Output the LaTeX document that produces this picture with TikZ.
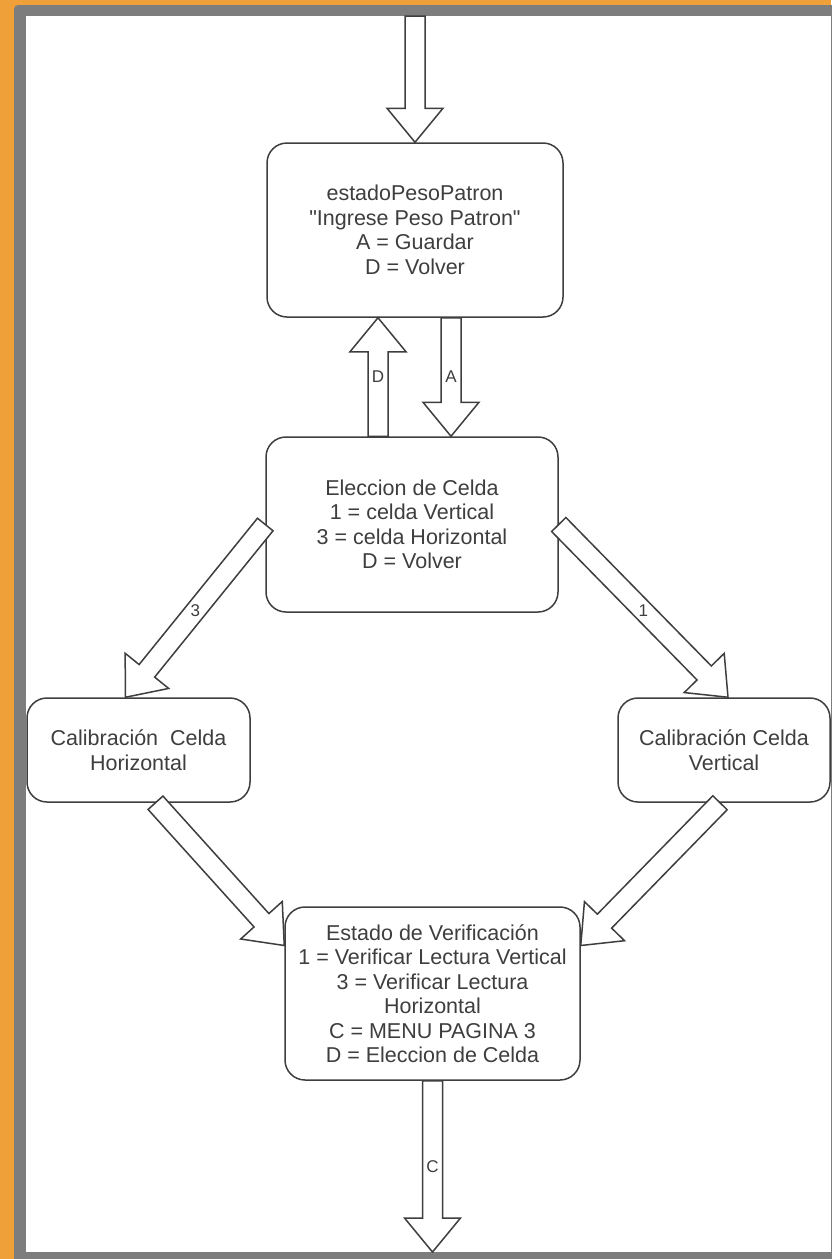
\documentclass[tikz,border=0pt]{standalone}
\usepackage{fontspec}
\setmainfont{Liberation Sans}
\newfontfamily\rectas{Liberation Sans}
\usetikzlibrary{calc}
\definecolor{marco}{RGB}{240,160,56}
\definecolor{gris}{RGB}{125,125,125}
\definecolor{tinta}{RGB}{62,62,62}

% 空心粗箭头: 起点, 终点, 标签
\newcommand{\fatarrow}[3]{%
  \draw[flecha] let \p1=(#1), \p2=(#2),
      \n1={atan2(\y2-\y1,\x2-\x1)}, \n2={veclen(\x2-\x1,\y2-\y1)-34pt} in
    ($(\p1)+(\n1+90:10pt)$) -- ($(\p1)+(\n1:\n2)+(\n1+90:10pt)$)
    -- ($(\p1)+(\n1:\n2)+(\n1+90:28pt)$) -- (\p2)
    -- ($(\p1)+(\n1:\n2)+(\n1-90:28pt)$) -- ($(\p1)+(\n1:\n2)+(\n1-90:10pt)$)
    -- ($(\p1)+(\n1-90:10pt)$) -- cycle;
  \if\relax\detokenize{#3}\relax\else
    \node[etiqueta] at ($(#1)!0.5!(#2)$) {#3};
  \fi
}

\begin{document}
\begin{tikzpicture}[x=1pt,y=-1pt,
    estado/.style={draw=tinta, line width=1.5pt, rounded corners=20pt, fill=white,
      text=tinta, align=center, inner sep=0pt, font=\fontsize{21.5}{24.5}\selectfont},
    flecha/.style={draw=tinta, line width=1.5pt, fill=white, line join=miter},
    etiqueta/.style={fill=white, inner sep=1pt, text=tinta, font=\fontsize{17}{17}\selectfont}]
  % 边框
  \fill[marco] (0,0) rectangle (831,1259);
  \useasboundingbox (0,0) rectangle (831,1259);
  \fill[gris, rounded corners=4pt] (14,5) rectangle (840,1268);
  \fill[white] (26,16) rectangle (831,1252);

  \node[estado, minimum width=296pt, minimum height=174pt] (peso) at (415,230)
    {estadoPesoPatron\\{\rectas"Ingrese Peso Patron"}\\A = Guardar\\D = Volver};
  \node[estado, minimum width=292pt, minimum height=175pt] (eleccion) at (412,524.5)
    {Eleccion de Celda\\1 = celda Vertical\\3 = celda Horizontal\\D = Volver};
  \node[estado, minimum width=223pt, minimum height=104pt] (calH) at (138.5,750)
    {Calibración~~Celda\\Horizontal};
  \node[estado, minimum width=212pt, minimum height=104pt] (calV) at (724,750)
    {Calibración Celda\\Vertical};
  \node[estado, minimum width=295pt, minimum height=173pt] (verif) at (432.5,993.5)
    {Estado de Verificación\\1 = Verificar Lectura Vertical\\3 = Verificar Lectura\\Horizontal\\C = MENU PAGINA 3\\D = Eleccion de Celda};

  \coordinate (entrada) at (415,16);
  \coordinate (fondo) at (0,1252);
  \coordinate (dBajo) at ([xshift=-34pt]eleccion.north);
  \coordinate (dAlto) at (peso.south -| dBajo);
  \coordinate (aAlto) at ([xshift=36pt]peso.south);
  \coordinate (aBajo) at (eleccion.north -| aAlto);
  \coordinate (salida) at (verif.south |- fondo);

  \fatarrow{entrada}{peso.north}{}
  \fatarrow{dBajo}{dAlto}{D}
  \fatarrow{aAlto}{aBajo}{A}
  \fatarrow{eleccion.west}{[xshift=-13pt]calH.north}{3}
  \fatarrow{eleccion.east}{[xshift=4pt]calV.north}{1}
  \fatarrow{[xshift=17pt]calH.south}{$(verif.west)+(0,-48)$}{}
  \fatarrow{[xshift=-4pt]calV.south}{$(verif.east)+(0,-48)$}{}
  \fatarrow{verif.south}{salida}{C}
\end{tikzpicture}
\end{document}
